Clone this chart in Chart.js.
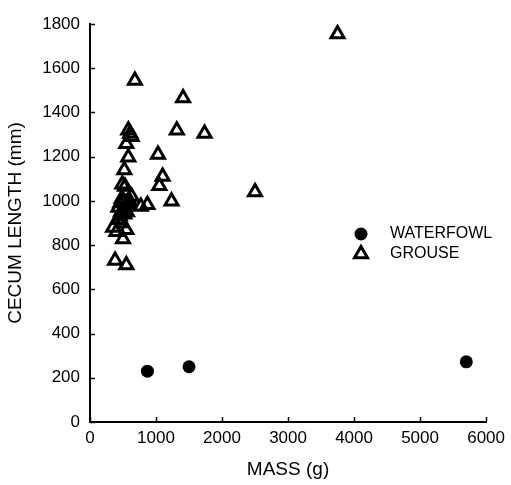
<!DOCTYPE html>
<html>
<head>
<meta charset="utf-8">
<script src="https://cdn.jsdelivr.net/npm/chart.js@4.4.0/dist/chart.umd.min.js"></script>
<style>
  html, body { margin: 0; padding: 0; background: #fff; }
</style>
</head>
<body>
<canvas id="chart_cv" width="511" height="485"></canvas>
<script>
// データ --- (*1)
const waterfowlMass = [870, 1500, 5700];
const waterfowlCecum = [230, 250, 272];

const grouseMass = [3750, 680, 1410, 580, 610, 630, 1315, 1735, 550, 580, 1030, 520, 1100, 1050,
  490, 530, 2500, 1235, 870, 770, 630, 590, 550, 500, 470, 450, 420, 480, 520, 350, 550, 400, 500, 380, 550,
  460, 510, 430, 560, 600, 480];
const grouseCecum = [1755, 1545, 1465, 1320, 1305, 1290, 1320, 1305, 1258, 1197, 1210, 1140, 1110, 1068,
  1075, 1065, 1040, 998, 982, 975, 1020, 1005, 990, 960, 950, 930, 915, 900, 940, 880, 870, 860, 828, 730, 710,
  990, 1000, 970, 950, 980, 1010];

const xTicks = [0, 1000, 2000, 3000, 4000, 5000, 6000];
const yTicks = [0, 200, 400, 600, 800, 1000, 1200, 1400, 1600, 1800];

const legendItems = ['WATERFOWL', 'GROUSE'];

const toPoints = (xs, ys) => xs.map((x, i) => ({ x: x, y: ys[i] }));

Chart.defaults.font.family = "'Liberation Sans', Arial, sans-serif";
Chart.defaults.color = '#000';

// 内向きの目盛り線
const innerTicks = {
  id: 'innerTicks',
  afterDatasetsDraw(chart) {
    const ctx = chart.ctx;
    const xs = chart.scales.x, ys = chart.scales.y;
    const a = chart.chartArea;
    ctx.save();
    ctx.strokeStyle = '#000';
    ctx.lineWidth = 1.5;
    ctx.beginPath();
    xTicks.forEach(v => {
      const px = Math.round(xs.getPixelForValue(v)) + 0.5;
      ctx.moveTo(px, a.bottom);
      ctx.lineTo(px, a.bottom - 5);
    });
    yTicks.forEach(v => {
      const py = Math.round(ys.getPixelForValue(v)) + 0.5;
      ctx.moveTo(a.left, py);
      ctx.lineTo(a.left + 5, py);
    });
    ctx.stroke();
    ctx.restore();
  }
};

// 凡例（グラフ内）
const innerLegend = {
  id: 'innerLegend',
  afterDraw(chart) {
    const ctx = chart.ctx;
    const ds = chart.data.datasets;
    const mx = 361, tx = 390;
    const rows = [234, 254];
    ctx.save();
    ctx.font = "16px 'Liberation Sans', Arial, sans-serif";
    ctx.textBaseline = 'middle';
    ctx.textAlign = 'left';
    ds.forEach((d, i) => {
      ctx.fillStyle = d.backgroundColor;
      ctx.strokeStyle = d.borderColor;
      ctx.lineWidth = d.borderWidth;
      Chart.helpers.drawPoint(ctx, {
        pointStyle: d.pointStyle,
        radius: d.pointRadius,
        borderWidth: d.borderWidth,
        rotation: 0
      }, mx, rows[i]);
      ctx.fillStyle = '#000';
      ctx.fillText(legendItems[i], tx, rows[i]);
    });
    ctx.restore();
  }
};

const plainNum = v => String(v);

// グラフを描画 --- (*2)
const ctx = document.getElementById('chart_cv');
const chart_cv = new Chart(ctx, {
  type: 'scatter',
  data: {
    datasets: [
      {
        label: legendItems[0],
        data: toPoints(waterfowlMass, waterfowlCecum),
        pointStyle: 'circle',
        pointRadius: 6.5,
        backgroundColor: '#000',
        borderColor: '#000',
        borderWidth: 0
      },
      {
        label: legendItems[1],
        data: toPoints(grouseMass, grouseCecum),
        pointStyle: 'triangle',
        pointRadius: 7.5,
        backgroundColor: 'rgba(0,0,0,0)',
        borderColor: '#000',
        borderWidth: 3
      }
    ]
  },
  options: {
    responsive: false,
    animation: false,
    layout: { padding: { top: 24, right: 23, left: 0, bottom: 0 } },
    plugins: {
      legend: { display: false },
      tooltip: { enabled: false }
    },
    scales: {
      x: {
        type: 'linear',
        min: 0,
        max: 6000,
        afterBuildTicks: s => { s.ticks = xTicks.map(v => ({ value: v })); },
        afterFit: s => { s.height = 63; },
        ticks: { font: { size: 17 }, padding: 6, maxRotation: 0, callback: plainNum },
        grid: { drawOnChartArea: false, drawTicks: false },
        border: { display: true, color: '#000', width: 2 },
        title: { display: true, text: 'MASS (g)', font: { size: 19 }, padding: { top: 20 } }
      },
      y: {
        type: 'linear',
        min: 0,
        max: 1800,
        afterBuildTicks: s => { s.ticks = yTicks.map(v => ({ value: v })); },
        afterFit: s => { s.width = 90; },
        ticks: { font: { size: 17 }, padding: 10, callback: plainNum },
        grid: { drawOnChartArea: false, drawTicks: false },
        border: { display: true, color: '#000', width: 2 },
        title: { display: true, text: 'CECUM LENGTH (mm)', font: { size: 19 }, padding: { top: 4, bottom: 4 } }
      }
    }
  },
  plugins: [innerTicks, innerLegend]
});
</script>
</body>
</html>
